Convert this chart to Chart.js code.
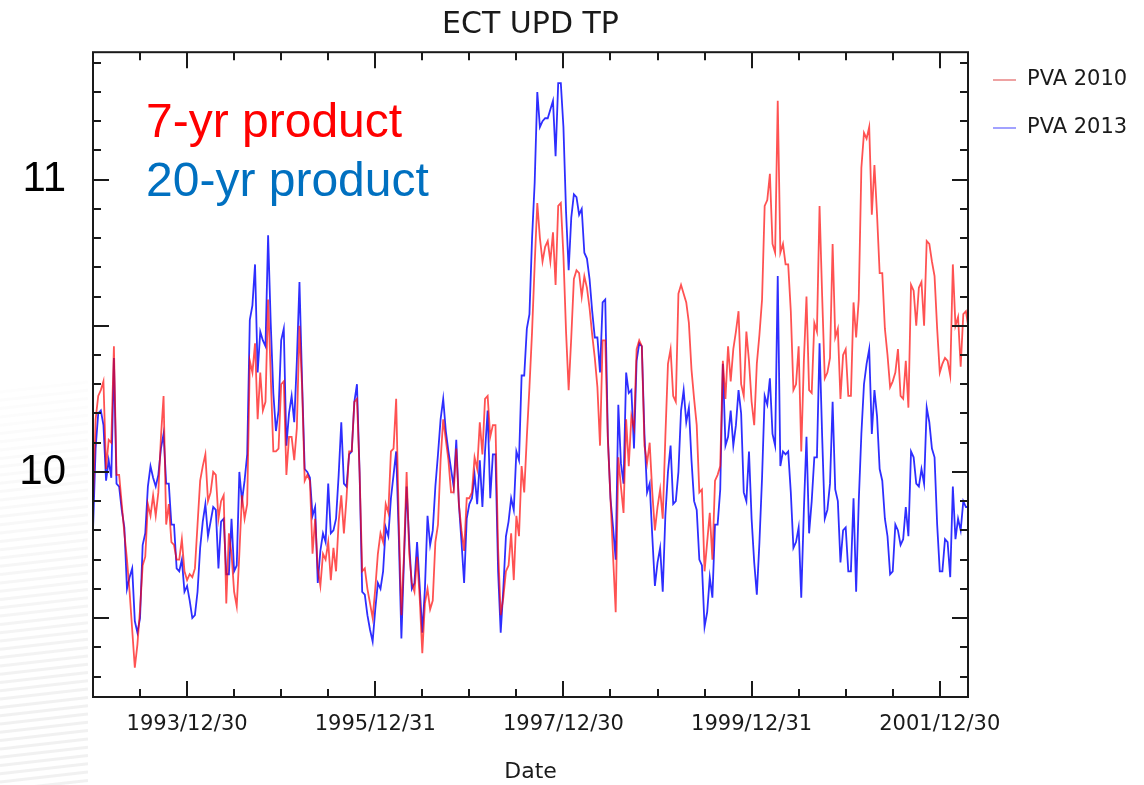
<!DOCTYPE html>
<html>
<head>
<meta charset="utf-8">
<title>ECT UPD TP</title>
<style>
  html, body { margin: 0; padding: 0; background: #fff; }
  #wrap { width: 1144px; height: 785px; }
</style>
</head>
<body>
<div id="wrap"><canvas id="chart" width="1144" height="785"></canvas></div>
<script src="https://cdn.jsdelivr.net/npm/chart.js"></script>
<script>
// dekadal values, Jan 1993 .. Apr 2002
const pva2010 = [
  9.89,10.18,10.26,10.28,10.31,10.01,10.11,10.10,10.43,9.99,
  9.99,9.89,9.79,9.70,9.59,9.46,9.33,9.41,9.53,9.68,
  9.71,9.89,9.85,9.92,9.85,9.93,10.12,10.26,9.82,9.89,
  9.76,9.75,9.70,9.70,9.77,9.66,9.63,9.65,9.64,9.67,
  9.82,9.97,10.02,10.06,9.90,9.93,10.00,9.99,9.84,9.90,
  9.92,9.55,9.79,9.72,9.59,9.54,9.72,
  9.92,9.84,9.89,10.38,10.34,10.44,10.18,10.34,10.21,10.24,
  10.59,10.33,10.07,10.07,10.08,10.30,10.31,9.99,10.12,10.12,
  10.04,10.15,10.50,10.29,9.97,9.99,9.97,9.72,9.84,9.67,
  9.61,9.72,9.70,9.76,9.63,9.74,9.66,9.83,9.92,9.79,
  9.91,10.07,10.07,10.24,10.25,10.00,9.66,9.67,9.60,9.55,
  9.50,9.60,9.72,9.79,9.76,
  9.89,9.86,10.07,10.08,10.25,9.83,9.51,9.72,10.00,9.72,
  9.62,9.59,9.71,9.57,9.38,9.55,9.60,9.53,9.56,9.76,
  9.82,10.04,10.18,10.11,10.04,9.93,9.93,10.08,9.89,9.80,
  9.73,9.91,9.91,9.93,10.05,10.01,10.17,10.06,10.25,10.26,
  10.12,10.16,10.16,9.74,9.51,9.57,9.66,9.68,9.79,9.63,
  9.85,9.78,10.02,9.93,10.12,10.29,10.48,
  10.71,10.92,10.80,10.72,10.77,10.79,10.72,10.82,10.64,10.91,
  10.92,10.74,10.48,10.28,10.46,10.66,10.69,10.68,10.60,10.67,
  10.63,10.56,10.47,10.39,10.29,10.09,10.45,10.45,10.11,9.91,
  9.71,9.52,10.05,9.95,9.86,10.18,10.02,10.19,10.15,10.42,
  10.45,10.43,10.09,10.03,10.10,9.93,9.80,9.88,9.94,9.84,
  10.12,10.37,10.42,10.26,10.24,10.61,
  10.64,10.61,10.58,10.51,10.35,10.25,10.16,9.93,9.94,9.66,
  9.76,9.86,9.70,9.97,9.99,10.02,10.38,10.25,10.43,10.31,
  10.42,10.48,10.55,10.30,10.26,10.48,10.38,10.24,10.16,10.37,
  10.47,10.59,10.91,10.93,11.02,10.78,10.75,11.27,10.75,10.78,
  10.71,10.71,10.55,10.28,10.30,10.43,10.07,10.38,10.60,10.28,
  10.27,10.51,10.48,10.91,10.60,10.32,
  10.34,10.39,10.78,10.46,10.49,10.25,10.40,10.42,10.26,10.26,
  10.58,10.46,10.59,11.04,11.16,11.14,11.18,10.88,11.05,10.88,
  10.68,10.68,10.49,10.40,10.29,10.31,10.34,10.42,10.26,10.25,
  10.38,10.22,10.64,10.62,10.50,10.63,10.65,10.50,10.79,10.78,
  10.72,10.67,10.49,10.34,10.37,10.39,10.38,10.33,10.71,10.50,
  10.53,10.36,10.54,10.55,10.49,10.22
];
const pva2013 = [
  9.80,10.08,10.20,10.21,10.16,9.97,10.04,9.98,10.39,9.96,
  9.95,9.87,9.81,9.60,9.64,9.67,9.49,9.45,9.50,9.75,
  9.79,9.95,10.02,9.98,9.95,9.99,10.08,10.13,9.96,9.96,
  9.82,9.82,9.67,9.66,9.70,9.59,9.61,9.56,9.50,9.51,
  9.59,9.74,9.83,9.89,9.78,9.83,9.88,9.87,9.67,9.83,
  9.84,9.65,9.65,9.84,9.66,9.68,10.00,
  9.90,9.97,10.06,10.52,10.57,10.71,10.34,10.48,10.45,10.43,
  10.81,10.51,10.27,10.14,10.21,10.45,10.49,10.09,10.20,10.26,
  10.17,10.38,10.65,10.31,10.01,10.00,9.98,9.85,9.88,9.62,
  9.73,9.79,9.76,9.96,9.79,9.80,9.84,9.99,10.17,9.96,
  9.95,10.06,10.07,10.24,10.30,10.00,9.59,9.58,9.51,9.46,
  9.42,9.53,9.62,9.60,9.66,
  9.81,9.78,9.91,9.99,10.07,9.78,9.43,9.70,9.95,9.76,
  9.60,9.62,9.76,9.61,9.45,9.60,9.85,9.75,9.80,9.95,
  10.06,10.18,10.25,10.14,10.07,10.01,9.95,10.11,9.89,9.76,
  9.62,9.84,9.89,9.91,9.99,9.89,10.04,9.88,10.07,10.21,
  9.91,10.06,10.06,9.66,9.45,9.60,9.78,9.83,9.91,9.87,
  10.07,10.04,10.33,10.33,10.49,10.54,10.80,
  10.99,11.30,11.18,11.20,11.21,11.21,11.24,11.27,11.08,11.33,
  11.33,11.18,10.89,10.69,10.87,10.95,10.94,10.88,10.90,10.75,
  10.73,10.66,10.55,10.46,10.46,10.34,10.58,10.59,10.12,9.91,
  9.81,9.70,10.23,10.03,9.96,10.34,10.27,10.28,10.08,10.38,
  10.44,10.43,10.13,9.93,9.96,9.78,9.61,9.69,9.74,9.59,
  9.85,10.00,10.09,9.89,9.90,10.00,
  10.21,10.28,10.17,10.22,10.04,9.90,9.87,9.70,9.68,9.47,
  9.52,9.64,9.57,9.82,9.82,9.94,10.37,10.09,10.12,10.21,
  10.09,10.16,10.28,10.20,9.93,9.90,10.07,9.84,9.69,9.58,
  9.76,9.98,10.26,10.23,10.32,10.13,10.09,10.67,10.02,10.07,
  10.06,10.07,9.93,9.74,9.76,9.81,9.57,9.87,10.12,9.79,
  9.90,10.05,10.05,10.44,10.12,9.84,
  9.87,9.96,10.24,9.94,9.90,9.69,9.80,9.81,9.66,9.66,
  9.91,9.59,9.90,10.13,10.30,10.37,10.42,10.13,10.28,10.19,
  10.01,9.97,9.84,9.78,9.65,9.66,9.82,9.80,9.75,9.77,
  9.88,9.78,10.07,10.05,9.96,9.95,10.01,9.96,10.22,10.17,
  10.08,10.05,9.82,9.66,9.66,9.77,9.76,9.64,9.95,9.77,
  9.84,9.80,9.90,9.88,9.88,9.56
];
// one value per dekad (10 days), as decimal year
const dates = pva2010.map((_, i) => 1993 + i / 36);
const xTickYears = [1994, 1996, 1998, 2000, 2002];
const xTickLabels = ['1993/12/30', '1995/12/31', '1997/12/30', '1999/12/31', '2001/12/30'];
const yTickValues = [10, 11];
const notes = [
  { text: '7-yr product', color: '#ff0000' },
  { text: '20-yr product', color: '#0070c0' }
];

const toPoints = arr => arr.map((v, i) => ({ x: dates[i], y: v }));

// faint grey stripes of the slide background, bottom left
const stripesPlugin = {
  id: 'stripes',
  beforeDraw(chart) {
    const ctx = chart.ctx;
    ctx.save();
    ctx.beginPath();
    ctx.rect(0, 380, 88, 405);
    ctx.clip();
    ctx.lineWidth = 3;
    for (let sy = 392; sy < 800; sy += 8.3) {
      const k = Math.min(1, (sy - 392) / 330);
      ctx.strokeStyle = `rgba(200, 200, 200, ${0.04 + 0.22 * k})`;
      ctx.beginPath();
      ctx.moveTo(0, sy);
      ctx.lineTo(88, sy - 10);
      ctx.stroke();
    }
    ctx.restore();
  }
};

// box with inward ticks, legend and the two notes
const framePlugin = {
  id: 'frame',
  afterDatasetsDraw(chart) {
    const { ctx, chartArea: a, scales: { x, y } } = chart;
    ctx.save();
    ctx.strokeStyle = '#1a1a1a';
    ctx.lineWidth = 2;
    ctx.strokeRect(a.left, a.top, a.right - a.left, a.bottom - a.top);
    ctx.beginPath();
    for (let t = 93; t <= 114; t++) {
      const py = Math.round(y.getPixelForValue(t / 10));
      const len = t % 5 === 0 ? 16 : 8;
      ctx.moveTo(a.left, py); ctx.lineTo(a.left + len, py);
      ctx.moveTo(a.right, py); ctx.lineTo(a.right - len, py);
    }
    for (let h = 1993.5; h < x.max; h += 0.5) {
      const px = Math.round(x.getPixelForValue(h));
      const len = xTickYears.includes(h) ? 16 : 8;
      ctx.moveTo(px, a.bottom); ctx.lineTo(px, a.bottom - len);
      ctx.moveTo(px, a.top); ctx.lineTo(px, a.top + len);
    }
    ctx.stroke();
    ctx.restore();
  },
  afterDraw(chart) {
    const { ctx, chartArea: a } = chart;
    ctx.save();
    // legend
    ctx.font = '21px "DejaVu Sans"';
    ctx.textBaseline = 'middle';
    ctx.textAlign = 'left';
    chart.data.datasets.forEach((ds, i) => {
      const ly = 80 + i * 48;
      ctx.strokeStyle = ds.legendColor;
      ctx.lineWidth = 1.5;
      ctx.beginPath();
      ctx.moveTo(a.right + 25, ly);
      ctx.lineTo(a.right + 48, ly);
      ctx.stroke();
      ctx.fillStyle = '#1a1a1a';
      ctx.fillText(ds.label, a.right + 59, ly);
    });
    // notes
    ctx.font = '48px "Liberation Sans"';
    ctx.textBaseline = 'alphabetic';
    notes.forEach((n, i) => {
      ctx.fillStyle = n.color;
      ctx.fillText(n.text, 146, 137 + i * 59);
    });
    ctx.restore();
  }
};

Chart.defaults.font.family = '"DejaVu Sans"';

new Chart(document.getElementById('chart'), {
  type: 'line',
  data: {
    datasets: [
      {
        label: 'PVA 2010',
        data: toPoints(pva2010),
        borderColor: 'rgba(255, 0, 0, 0.68)',
        legendColor: 'rgba(225, 90, 90, 0.75)',
        borderWidth: 1.8,
        pointRadius: 0,
        fill: false
      },
      {
        label: 'PVA 2013',
        data: toPoints(pva2013),
        borderColor: 'rgba(0, 0, 255, 0.82)',
        legendColor: 'rgba(90, 90, 255, 0.75)',
        borderWidth: 1.8,
        pointRadius: 0,
        fill: false
      }
    ]
  },
  options: {
    responsive: false,
    animation: false,
    layout: { padding: { top: 1, right: 176, bottom: 0, left: 0 } },
    plugins: {
      legend: { display: false },
      tooltip: { enabled: false },
      title: {
        display: true,
        fullSize: false,
        text: 'ECT UPD TP',
        color: '#1a1a1a',
        font: { size: 30, weight: 'normal' },
        padding: { top: 4, bottom: 8.5 }
      }
    },
    scales: {
      x: {
        type: 'linear',
        min: 1993.0,
        max: 2002.3,
        grid: { display: false, drawTicks: false },
        border: { display: false },
        afterFit: s => { s.height = 88; },
        afterBuildTicks: s => { s.ticks = xTickYears.map(v => ({ value: v })); },
        ticks: {
          autoSkip: false,
          maxRotation: 0,
          padding: 15,
          color: '#1a1a1a',
          font: { size: 21 },
          callback: v => xTickLabels[xTickYears.indexOf(v)] || ''
        },
        title: {
          display: true,
          text: 'Date',
          color: '#1a1a1a',
          font: { size: 22 },
          padding: { top: 0, bottom: 0 }
        }
      },
      y: {
        min: 9.23,
        max: 11.436,
        grid: { display: false, drawTicks: false },
        border: { display: false },
        afterFit: s => { s.width = 93; },
        afterBuildTicks: s => { s.ticks = yTickValues.map(v => ({ value: v })); },
        ticks: {
          padding: 27,
          color: '#000',
          font: { family: '"Liberation Sans"', size: 42 },
          callback: v => String(v)
        }
      }
    }
  },
  plugins: [stripesPlugin, framePlugin]
});
</script>
</body>
</html>
